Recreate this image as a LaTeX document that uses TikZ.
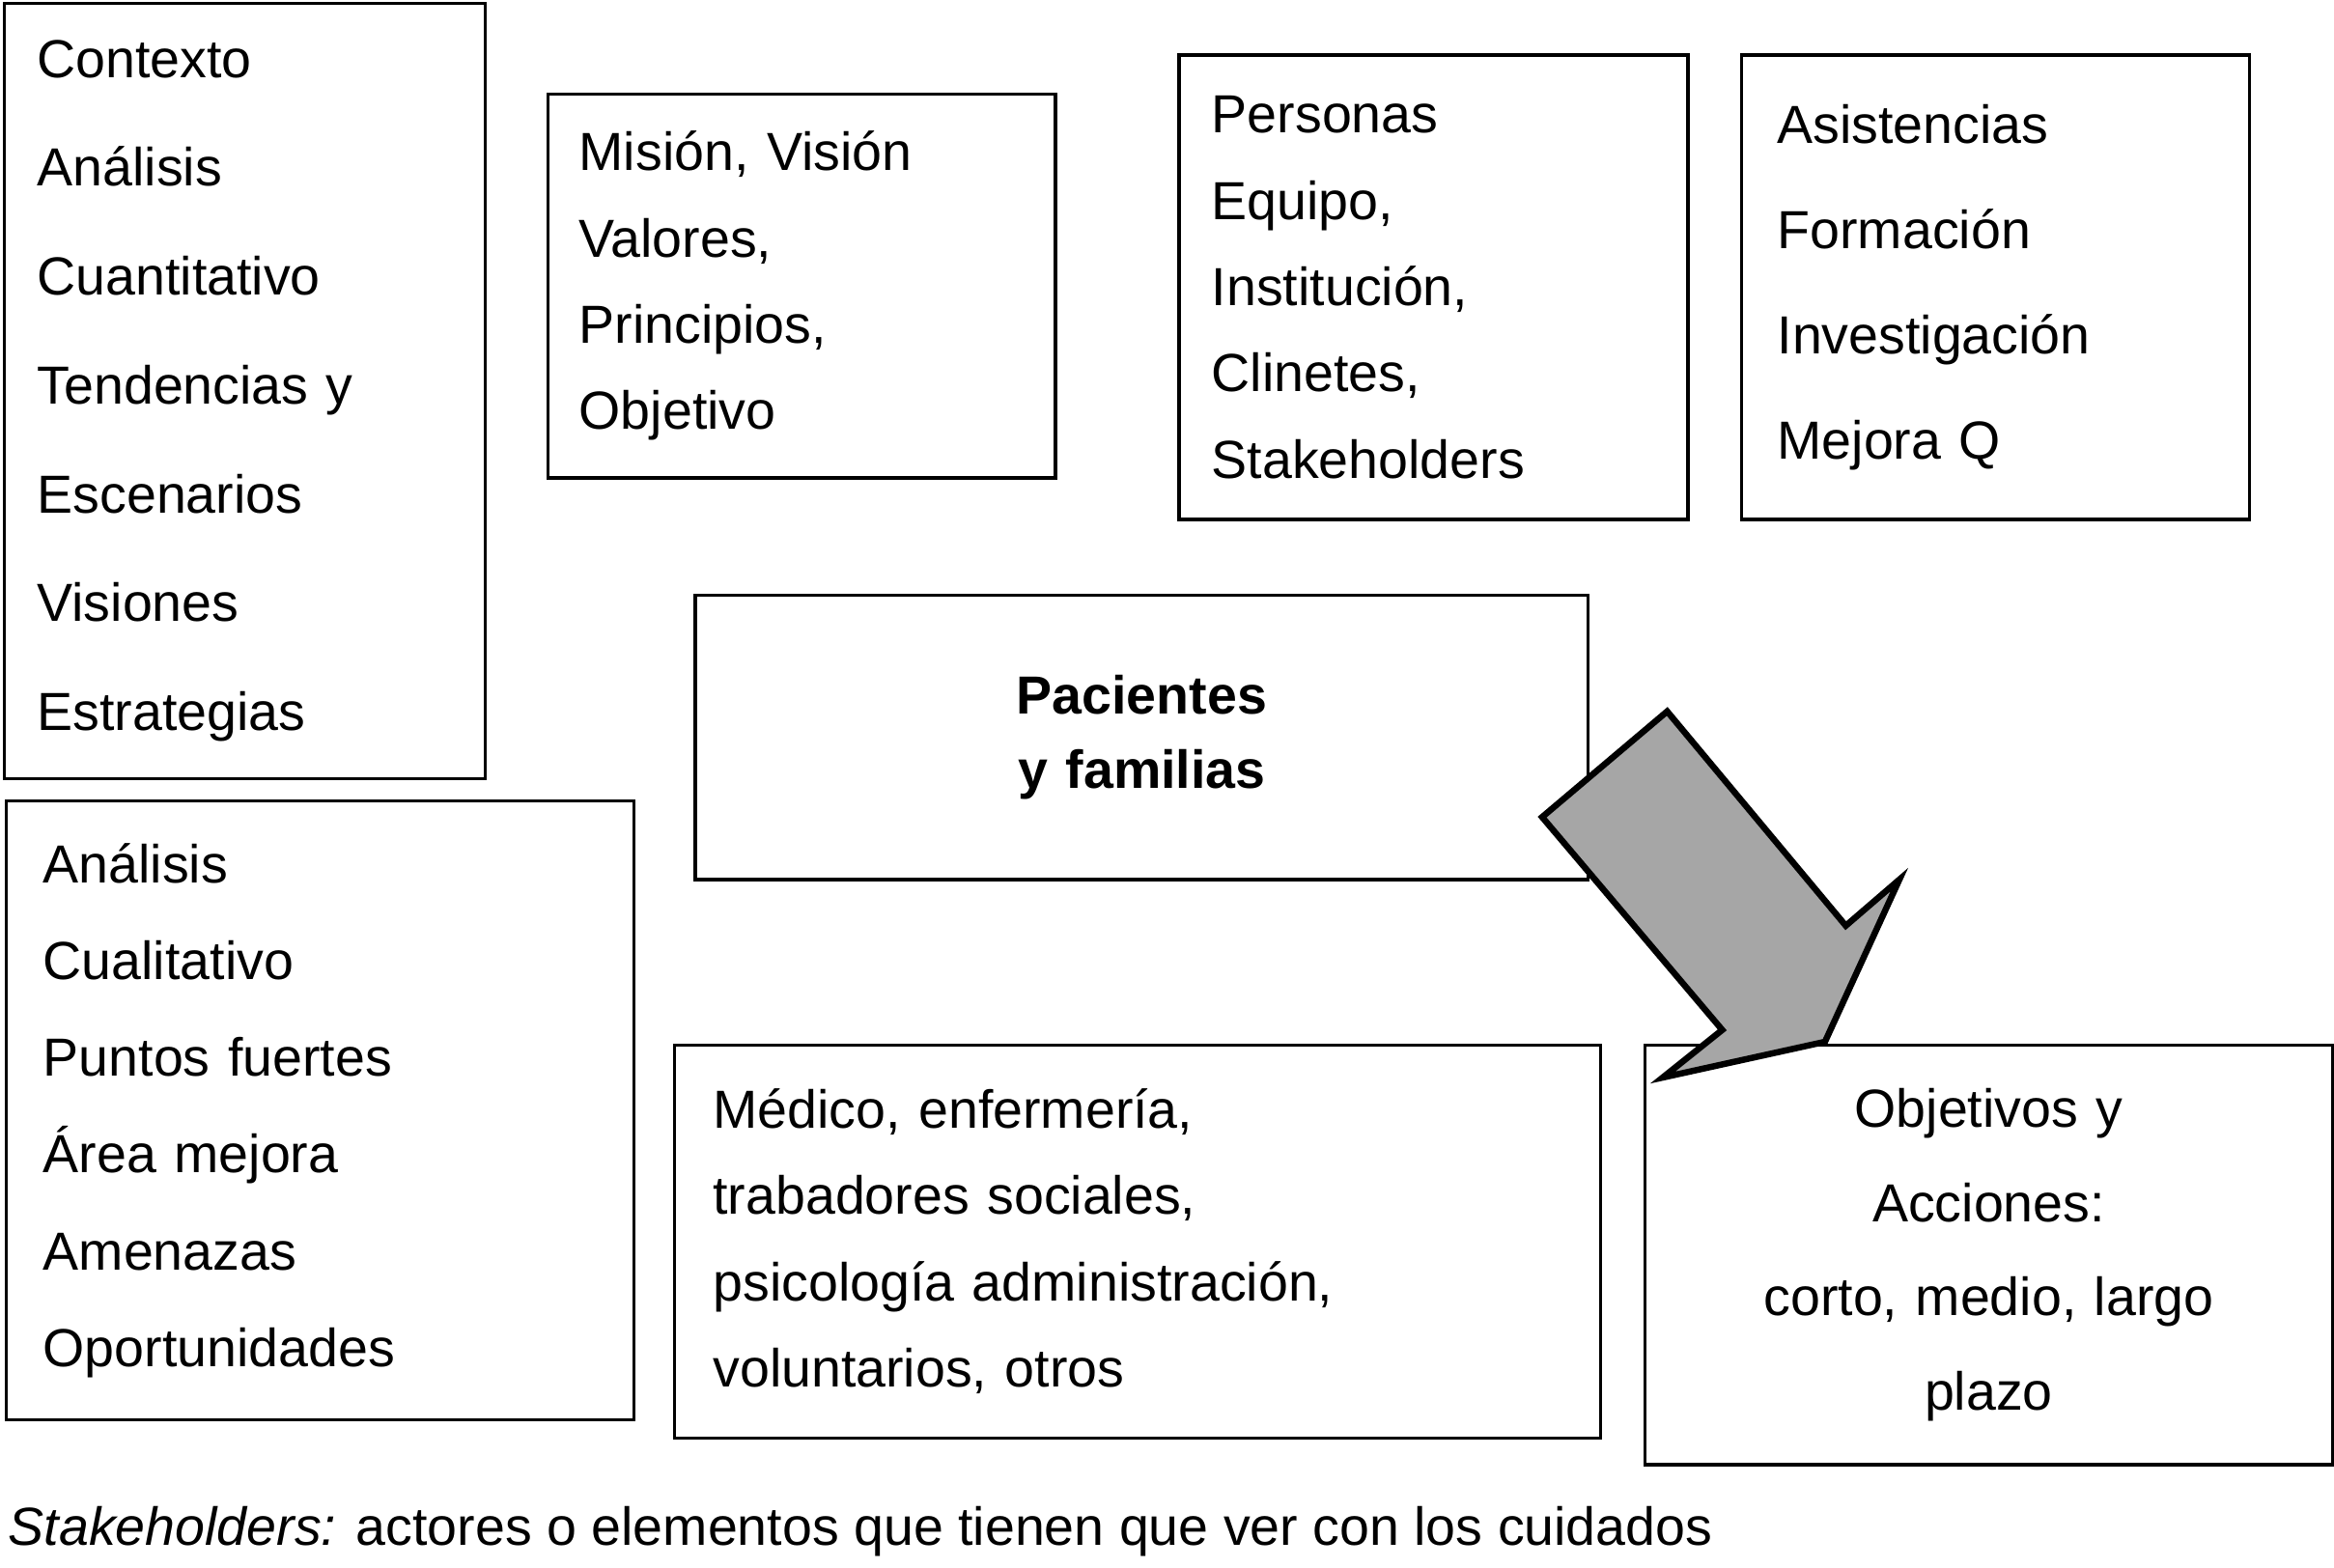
\documentclass[tikz,border=0pt]{standalone}
\usepackage{fontspec}
\setmainfont{Liberation Sans}
\usetikzlibrary{positioning}

\begin{document}
\begin{tikzpicture}[caja/.style={draw, line width=0.6pt, anchor=north west, align=left, inner ysep=0pt}]
  \useasboundingbox (0,0) rectangle (15.68,10.53);
  % fila superior
  \node[caja, minimum height=5.21cm, inner xsep=0.22cm, text width=2.79cm, font=\fontsize{10.25}{20.8}\selectfont] (contexto) at (0.02,10.52)
    {Contexto\\ Análisis\\ Cuantitativo\\ Tendencias y\\ Escenarios\\ Visiones\\ Estrategias};
  \node[caja, minimum height=2.58cm, inner xsep=0.21cm, text width=2.99cm, font=\fontsize{10.25}{16.5}\selectfont] (mision) at (3.67,9.91)
    {Misión, Visión\\ Valores,\\ Principios,\\ Objetivo};
  \node[caja, minimum height=3.12cm, inner xsep=0.22cm, text width=2.98cm, font=\fontsize{10.25}{16.5}\selectfont] (personas) at (7.91,10.17)
    {Personas\\ Equipo,\\ Institución,\\ Clinetes,\\ Stakeholders};
  \node[caja, minimum height=3.12cm, inner xsep=0.24cm, text width=2.93cm, font=\fontsize{10.25}{20.1}\selectfont] (asistencias) at (11.69,10.17)
    {Asistencias\\ Formación\\ Investigación\\ Mejora Q};
  % centro
  \node[caja, align=center, minimum height=1.91cm, inner xsep=0pt, text width=6.00cm, font=\fontsize{10.25}{14.2}\selectfont\bfseries] (pacientes) at (4.66,6.54)
    {Pacientes\\ y familias};
  % fila inferior
  \node[caja, minimum height=4.16cm, inner xsep=0.25cm, text width=3.72cm, font=\fontsize{10.25}{18.5}\selectfont] (analisis) at (0.03,5.16)
    {Análisis\\ Cualitativo\\ Puntos fuertes\\ Área mejora\\ Amenazas\\ Oportunidades};
  \node[caja, minimum height=2.64cm, inner xsep=0.26cm, text width=5.70cm, font=\fontsize{10.25}{16.5}\selectfont] (medico) at (4.52,3.52)
    {Médico, enfermería,\\ trabadores sociales,\\ psicología administración,\\ voluntarios, otros};
  \node[caja, align=center, minimum height=2.82cm, inner xsep=0pt, text width=4.62cm, font=\fontsize{10.25}{18.0}\selectfont] (objetivos) at (11.04,3.52)
    {Objetivos y\\ Acciones:\\ corto, medio, largo\\ plazo};
  % flecha gruesa
  \draw[line width=1.2pt, fill=black!35, line join=miter] (11.20,5.75) -- (12.40,4.31) -- (12.76,4.62) -- (12.26,3.53)
    -- (11.17,3.29) -- (11.57,3.61) -- (10.36,5.04) -- cycle;
  % nota
  \node[anchor=west, inner sep=0pt, font=\fontsize{10.25}{12}\selectfont] (nota) at (0.05,0.24)
    {\textit{Stakeholders:} actores o elementos que tienen que ver con los cuidados};
\end{tikzpicture}
\end{document}
